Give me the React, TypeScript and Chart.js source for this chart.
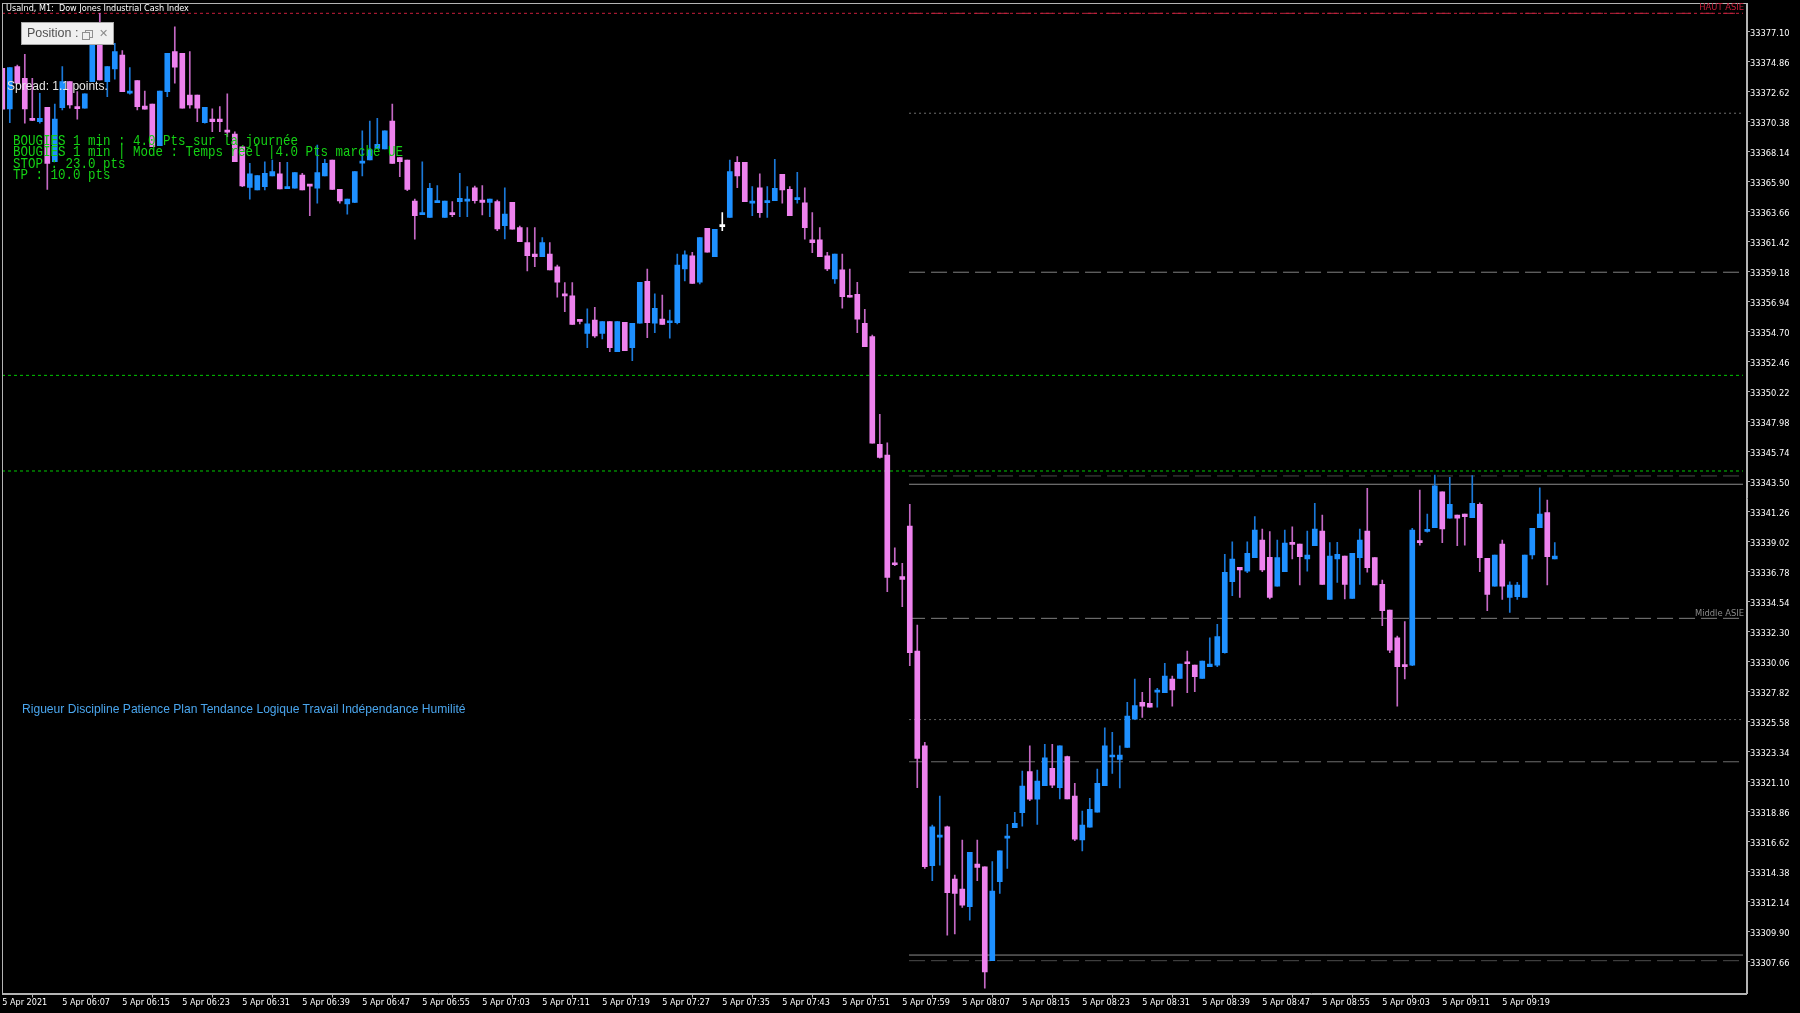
import React, { useEffect, useRef } from "react";
import { Chart, registerables } from "chart.js";

Chart.register(...registerables);

// ---------- DATA ----------
const xTickLabels = [
  "5 Apr 2021", "5 Apr 06:07", "5 Apr 06:15", "5 Apr 06:23", "5 Apr 06:31", "5 Apr 06:39",
  "5 Apr 06:47", "5 Apr 06:55", "5 Apr 07:03", "5 Apr 07:11", "5 Apr 07:19", "5 Apr 07:27",
  "5 Apr 07:35", "5 Apr 07:43", "5 Apr 07:51", "5 Apr 07:59", "5 Apr 08:07", "5 Apr 08:15",
  "5 Apr 08:23", "5 Apr 08:31", "5 Apr 08:39", "5 Apr 08:47", "5 Apr 08:55", "5 Apr 09:03",
  "5 Apr 09:11", "5 Apr 09:19",
];
const xTickStep = 8;

const yTickLabels = [
  "33377.10", "33374.86", "33372.62", "33370.38", "33368.14", "33365.90", "33363.66", "33361.42",
  "33359.18", "33356.94", "33354.70", "33352.46", "33350.22", "33347.98", "33345.74", "33343.50",
  "33341.26", "33339.02", "33336.78", "33334.54", "33332.30", "33330.06", "33327.82", "33325.58",
  "33323.34", "33321.10", "33318.86", "33316.62", "33314.38", "33312.14", "33309.90", "33307.66",
];

const opens = [
  33374.37, 33371.33, 33374.49, 33373.62, 33370.55, 33370.38, 33371.46, 33367.39, 33371.43, 33373.37,
  33371.42, 33371.38, 33373.37, 33376.33, 33373.37, 33374.32, 33375.36, 33372.50, 33373.44, 33371.55,
  33371.70, 33368.59, 33372.62, 33375.61, 33375.49, 33372.37, 33372.37, 33370.31, 33370.58, 33370.58,
  33369.66, 33369.46, 33368.51, 33365.48, 33365.28, 33365.53, 33366.33, 33366.48, 33365.38, 33365.41,
  33366.40, 33365.63, 33365.41, 33366.33, 33367.52, 33365.33, 33364.24, 33364.36, 33367.29, 33367.52,
  33368.39, 33368.34, 33370.43, 33367.69, 33367.52, 33364.46, 33363.44, 33363.24, 33364.33, 33363.24,
  33363.50, 33364.41, 33364.45, 33365.45, 33364.53, 33364.36, 33364.41, 33362.61, 33364.36, 33362.47,
  33361.35, 33360.50, 33360.30, 33360.50, 33359.55, 33357.49, 33357.37, 33355.53, 33354.58, 33355.57,
  33354.58, 33355.45, 33353.21, 33355.40, 33353.51, 33355.33, 33358.46, 33355.33, 33355.65, 33355.37,
  33355.37, 33359.38, 33360.37, 33358.39, 33362.42, 33360.30, 33362.54, 33363.24, 33367.35, 33367.35,
  33364.30, 33365.45, 33364.33, 33364.48, 33366.45, 33365.33, 33364.56, 33364.33, 33361.55, 33361.55,
  33360.37, 33358.64, 33359.31, 33357.39, 33357.49, 33355.33, 33354.33, 33346.29, 33345.49, 33337.36,
  33336.41, 33340.19, 33330.86, 33323.79, 33314.83, 33316.96, 33317.74, 33313.84, 33313.09, 33311.77,
  33314.96, 33314.75, 33307.74, 33313.63, 33316.89, 33317.67, 33318.79, 33321.85, 33319.79, 33320.80,
  33322.10, 33320.65, 33322.97, 33320.03, 33316.75, 33317.70, 33318.82, 33320.80, 33322.95, 33322.77,
  33323.67, 33325.78, 33327.03, 33326.95, 33327.79, 33327.75, 33328.77, 33328.82, 33329.97, 33329.81,
  33328.82, 33329.69, 33329.81, 33330.73, 33336.03, 33337.11, 33336.83, 33337.83, 33339.15, 33337.86,
  33335.71, 33336.78, 33338.88, 33338.85, 33337.73, 33338.72, 33339.82, 33334.72, 33337.73, 33337.95,
  33334.79, 33337.83, 33339.82, 33337.83, 33335.84, 33333.92, 33331.85, 33329.81, 33329.81, 33339.07,
  33339.79, 33340.07, 33342.75, 33340.77, 33341.01, 33341.09, 33340.81, 33341.81, 33337.78, 33335.71,
  33338.85, 33334.87, 33334.91, 33334.87, 33338.03, 33340.07, 33341.19, 33337.73,
];

const highs = [
  33374.37, 33374.41, 33374.61, 33375.41, 33373.62, 33372.50, 33371.46, 33371.70, 33374.49, 33373.37,
  33372.62, 33372.45, 33376.61, 33378.47, 33374.49, 33376.23, 33375.68, 33374.41, 33373.44, 33372.67,
  33371.70, 33372.67, 33375.49, 33377.47, 33375.49, 33375.61, 33372.37, 33371.46, 33371.33, 33371.50,
  33372.45, 33369.63, 33368.51, 33367.27, 33366.35, 33367.39, 33367.52, 33367.35, 33367.35, 33366.57,
  33366.53, 33365.65, 33368.64, 33367.57, 33367.52, 33365.33, 33364.61, 33366.65, 33369.69, 33370.43,
  33370.63, 33369.69, 33371.70, 33367.69, 33367.52, 33364.61, 33367.39, 33365.78, 33365.60, 33364.46,
  33364.41, 33366.53, 33365.53, 33365.58, 33365.60, 33364.61, 33364.53, 33365.45, 33364.36, 33362.59,
  33362.47, 33362.47, 33361.72, 33361.35, 33359.68, 33358.36, 33358.36, 33355.57, 33356.40, 33356.52,
  33355.45, 33355.45, 33355.45, 33355.40, 33355.33, 33358.39, 33359.38, 33357.52, 33357.44, 33356.32,
  33360.50, 33360.73, 33360.63, 33361.72, 33362.42, 33362.35, 33363.59, 33367.52, 33367.77, 33367.35,
  33365.53, 33366.48, 33365.53, 33367.57, 33366.45, 33365.53, 33366.60, 33365.45, 33363.59, 33362.47,
  33360.63, 33360.50, 33360.50, 33359.38, 33358.39, 33356.37, 33354.45, 33348.53, 33346.41, 33338.57,
  33337.41, 33341.81, 33332.80, 33324.04, 33317.87, 33320.03, 33317.79, 33314.13, 33316.75, 33315.83,
  33316.75, 33314.75, 33315.13, 33315.95, 33317.92, 33318.82, 33321.90, 33323.79, 33321.97, 33323.89,
  33323.89, 33323.79, 33323.02, 33320.98, 33318.91, 33319.86, 33322.05, 33325.13, 33324.79, 33323.79,
  33327.03, 33328.77, 33327.78, 33328.82, 33328.07, 33329.94, 33328.99, 33329.89, 33330.86, 33329.81,
  33330.11, 33331.85, 33332.85, 33338.08, 33339.02, 33337.11, 33339.02, 33340.89, 33339.97, 33339.77,
  33339.15, 33339.89, 33340.14, 33338.85, 33339.82, 33341.89, 33341.01, 33338.95, 33338.98, 33337.95,
  33338.15, 33339.97, 33343.01, 33337.83, 33336.16, 33333.92, 33331.98, 33333.05, 33340.02, 33342.88,
  33341.09, 33344.00, 33342.75, 33343.83, 33341.01, 33341.09, 33343.95, 33341.93, 33337.78, 33338.03,
  33339.15, 33336.03, 33335.99, 33338.03, 33340.02, 33343.05, 33342.13, 33338.95,
];

const lows = [
  33371.31, 33370.31, 33373.25, 33370.26, 33370.45, 33370.26, 33365.33, 33367.39, 33371.25, 33371.38,
  33370.56, 33371.38, 33373.37, 33373.49, 33372.25, 33373.55, 33372.62, 33372.43, 33371.25, 33371.31,
  33368.51, 33368.59, 33372.25, 33373.25, 33371.38, 33371.38, 33370.38, 33370.26, 33369.63, 33369.63,
  33369.26, 33367.39, 33365.53, 33364.59, 33365.28, 33365.28, 33366.33, 33365.36, 33365.38, 33365.41,
  33365.28, 33363.36, 33364.29, 33366.33, 33365.33, 33364.29, 33363.47, 33364.33, 33366.33, 33367.52,
  33368.39, 33368.34, 33367.27, 33366.27, 33365.23, 33361.60, 33363.44, 33363.24, 33364.33, 33363.24,
  33363.29, 33363.29, 33363.29, 33364.29, 33363.41, 33363.29, 33362.24, 33361.62, 33362.35, 33361.42,
  33359.23, 33359.55, 33360.30, 33359.31, 33357.27, 33356.19, 33355.25, 33355.28, 33353.51, 33354.28,
  33354.16, 33353.21, 33353.21, 33353.28, 33352.54, 33355.33, 33354.25, 33354.63, 33355.25, 33354.21,
  33355.28, 33358.49, 33358.31, 33358.26, 33360.63, 33360.30, 33362.24, 33363.24, 33365.45, 33364.41,
  33363.36, 33363.24, 33363.24, 33364.48, 33364.29, 33363.36, 33364.29, 33361.60, 33360.60, 33360.30,
  33359.25, 33358.31, 33356.45, 33357.27, 33354.63, 33353.58, 33346.37, 33345.25, 33335.29, 33337.23,
  33334.17, 33329.76, 33320.65, 33314.63, 33313.71, 33314.88, 33309.65, 33309.73, 33311.72, 33310.77,
  33313.71, 33305.68, 33307.74, 33312.77, 33314.63, 33317.67, 33317.79, 33319.68, 33317.92, 33320.80,
  33320.65, 33319.81, 33319.81, 33316.70, 33315.93, 33317.70, 33318.82, 33320.80, 33321.73, 33320.63,
  33323.67, 33325.78, 33325.91, 33326.66, 33326.66, 33327.75, 33326.75, 33328.82, 33327.75, 33327.82,
  33328.82, 33329.69, 33329.69, 33330.69, 33334.99, 33334.87, 33336.71, 33337.83, 33336.78, 33334.74,
  33335.71, 33336.78, 33337.73, 33335.79, 33336.83, 33338.72, 33335.84, 33334.72, 33335.99, 33334.74,
  33334.79, 33335.84, 33336.74, 33335.79, 33332.75, 33330.73, 33326.75, 33328.77, 33329.76, 33338.77,
  33339.73, 33340.07, 33338.95, 33340.77, 33338.72, 33338.77, 33340.81, 33336.78, 33333.87, 33335.71,
  33334.72, 33333.75, 33334.72, 33334.87, 33337.73, 33340.07, 33335.79, 33337.73,
];

const closes = [
  33371.31, 33374.41, 33373.25, 33371.33, 33370.48, 33370.63, 33367.27, 33370.58, 33373.37, 33371.63,
  33371.35, 33372.45, 33376.61, 33373.49, 33374.49, 33375.61, 33372.62, 33372.67, 33371.50, 33371.31,
  33368.51, 33372.67, 33375.49, 33374.44, 33371.38, 33371.63, 33371.38, 33371.46, 33370.38, 33370.38,
  33369.60, 33367.39, 33365.58, 33366.48, 33366.35, 33366.53, 33366.65, 33365.36, 33365.44, 33366.57,
  33365.28, 33365.57, 33366.57, 33367.27, 33365.33, 33364.46, 33364.61, 33366.65, 33367.35, 33368.27,
  33368.69, 33369.69, 33367.27, 33367.39, 33365.33, 33363.36, 33363.50, 33365.41, 33364.48, 33364.46,
  33363.44, 33364.66, 33364.51, 33364.48, 33364.36, 33364.61, 33362.37, 33363.49, 33362.35, 33361.42,
  33360.37, 33360.30, 33361.35, 33359.31, 33358.39, 33357.37, 33355.25, 33355.47, 33355.28, 33354.38,
  33355.45, 33353.51, 33355.45, 33353.28, 33355.33, 33358.39, 33355.37, 33356.45, 33355.25, 33355.43,
  33359.68, 33360.43, 33358.31, 33361.72, 33360.63, 33362.35, 33362.54, 33366.65, 33366.33, 33364.41,
  33364.36, 33363.59, 33364.48, 33365.41, 33365.28, 33363.36, 33364.62, 33362.47, 33361.35, 33360.30,
  33359.38, 33360.50, 33357.31, 33357.27, 33355.63, 33353.58, 33346.37, 33345.32, 33336.36, 33337.30,
  33336.21, 33330.73, 33322.85, 33314.75, 33317.74, 33317.02, 33312.81, 33312.77, 33311.89, 33315.83,
  33314.71, 33306.91, 33312.94, 33315.95, 33316.95, 33317.99, 33320.78, 33319.79, 33321.15, 33322.89,
  33320.85, 33323.79, 33319.81, 33316.82, 33317.87, 33319.04, 33320.98, 33323.79, 33323.01, 33323.09,
  33326.01, 33326.78, 33326.75, 33326.66, 33327.85, 33328.99, 33327.95, 33329.89, 33329.91, 33328.94,
  33330.11, 33329.89, 33331.93, 33336.74, 33337.73, 33336.91, 33338.15, 33339.89, 33336.91, 33334.87,
  33337.83, 33338.92, 33338.82, 33337.90, 33338.03, 33339.97, 33335.84, 33337.95, 33338.08, 33335.84,
  33338.15, 33339.15, 33337.08, 33335.79, 33333.87, 33330.93, 33329.69, 33329.69, 33339.89, 33338.95,
  33339.85, 33343.20, 33339.97, 33341.81, 33340.77, 33340.89, 33341.89, 33337.83, 33335.09, 33338.03,
  33335.71, 33335.79, 33335.79, 33338.03, 33340.02, 33341.09, 33337.90, 33337.95,
];

// horizontal level lines (price, starting bar index)
const levelPrices = [
  33378.47, 33378.47, 33371.01, 33359.14, 33351.44, 33344.30, 33343.93,
  33343.31, 33333.30, 33325.74, 33322.59, 33308.16, 33307.74,
];
const levelStarts = [-0.04, 120.9, 120.9, 120.9, -0.04, -0.04, 120.9, 120.9, 120.9, 120.9, 120.9, 120.9, 120.9];
const levelEnd = 232.1;

// ---------- STYLE ----------
const levelStyles = [
  { color: "#c81e3c", dash: [3, 3] },
  { color: "#b02a40", dash: [12, 10] },
  { color: "#707070", dash: [2, 3] },
  { color: "#808080", dash: [16, 6] },
  { color: "#00c800", dash: [3, 3] },
  { color: "#00c800", dash: [3, 3] },
  { color: "#4a4a4a", dash: [16, 6] },
  { color: "#8c8c8c", dash: [] },
  { color: "#808080", dash: [16, 6] },
  { color: "#606060", dash: [2, 3] },
  { color: "#6e6e6e", dash: [16, 6] },
  { color: "#8c8c8c", dash: [] },
  { color: "#4a4a4a", dash: [16, 6] },
];

const BULL = "#1e90ff";
const BEAR = "#ee82ee";
const DOJI = "#ffffff";
const BULL_WICK = "#1a78d8";
const BEAR_WICK = "#c468c4";
const AXIS_FONT = '"Liberation Sans Narrow", "DejaVu Sans Condensed", "Liberation Sans", sans-serif';

const X_MIN = -0.04;
const X_MAX = 232.63;
const Y_MIN = 33305.29;
const Y_MAX = 33379.24;

const framePlugin = {
  id: "frame",
  afterDraw(chart: any) {
    const { ctx, chartArea } = chart;
    ctx.save();
    ctx.strokeStyle = "#b4b4b4";
    ctx.lineWidth = 1;
    ctx.strokeRect(
      Math.round(chartArea.left) + 0.5,
      Math.round(chartArea.top) + 0.5,
      Math.round(chartArea.right - chartArea.left) - 1,
      Math.round(chartArea.bottom - chartArea.top)
    );
    ctx.restore();
  },
};

function CandleChart() {
  const ref = useRef<HTMLCanvasElement | null>(null);

  useEffect(() => {
    const canvas = ref.current;
    if (!canvas) return;
    const n = closes.length;
    const idx = Array.from({ length: n }, (_, i) => i);
    const dir = (i: number) => (closes[i] > opens[i] ? 1 : closes[i] < opens[i] ? -1 : 0);
    const bodyColors = idx.map((i) => (dir(i) > 0 ? BULL : dir(i) < 0 ? BEAR : DOJI));
    const wickColors = idx.map((i) => (dir(i) > 0 ? BULL_WICK : dir(i) < 0 ? BEAR_WICK : DOJI));

    const levelDatasets = levelPrices.map((p, k) => ({
      type: "line" as const,
      data: [
        { x: levelStarts[k], y: p },
        { x: levelEnd, y: p },
      ],
      borderColor: levelStyles[k].color,
      borderDash: levelStyles[k].dash,
      borderWidth: 1,
      pointRadius: 0,
      fill: false,
      tension: 0,
      order: 3,
    }));

    const xTickValues = xTickLabels.map((_, k) => k * xTickStep);
    const yTickValues = yTickLabels.map((s) => parseFloat(s));

    const chart = new Chart(canvas, {
      type: "bar",
      data: {
        datasets: [
          {
            type: "bar",
            data: idx.map((i) => ({ x: i, y: [opens[i], closes[i]] })) as any,
            backgroundColor: bodyColors,
            borderWidth: 0,
            barThickness: 5,
            minBarLength: 2,
            grouped: false,
            order: 0,
          } as any,
          {
            type: "bar",
            data: idx.map((i) => ({ x: i, y: [lows[i], highs[i]] })) as any,
            backgroundColor: wickColors,
            borderWidth: 0,
            barThickness: 1,
            minBarLength: 1,
            grouped: false,
            order: 1,
          } as any,
          ...(levelDatasets as any[]),
        ],
      },
      options: {
        responsive: false,
        animation: false,
        devicePixelRatio: 1,
        events: [],
        layout: { padding: { left: 2, top: 3, right: 0, bottom: 0 } },
        plugins: {
          legend: { display: false },
          tooltip: { enabled: false },
        },
        scales: {
          x: {
            type: "linear",
            min: X_MIN,
            max: X_MAX,
            offset: false,
            grid: {
              display: true,
              drawOnChartArea: false,
              drawTicks: true,
              tickLength: 4,
              color: "#b4b4b4",
            },
            border: { display: true, color: "#b4b4b4" },
            ticks: {
              autoSkip: false,
              maxRotation: 0,
              minRotation: 0,
              align: "start",
              padding: 0,
              color: "#ffffff",
              font: { family: AXIS_FONT, size: 9 },
              callback: (v: any) => xTickLabels[Math.round(Number(v) / xTickStep)] ?? "",
            },
            afterBuildTicks: (s: any) => {
              s.ticks = xTickValues.map((v) => ({ value: v }));
            },
            afterFit: (s: any) => {
              s.height = 19.5;
            },
          },
          y: {
            type: "linear",
            position: "right",
            min: Y_MIN,
            max: Y_MAX,
            grid: {
              display: true,
              drawOnChartArea: false,
              drawTicks: true,
              tickLength: 3,
              color: "#b4b4b4",
            },
            border: { display: true, color: "#b4b4b4" },
            ticks: {
              autoSkip: false,
              padding: 0,
              labelOffset: 2,
              color: "#ffffff",
              font: { family: AXIS_FONT, size: 9.2, lineHeight: 0.5 },
              callback: (_v: any, i: number) => yTickLabels[i] ?? "",
            },
            afterBuildTicks: (s: any) => {
              s.ticks = yTickValues.map((v) => ({ value: v }));
            },
            afterFit: (s: any) => {
              s.width = 53;
            },
          },
        },
      } as any,
      plugins: [framePlugin],
    });
    return () => chart.destroy();
  }, []);

  return (
    <canvas
      ref={ref}
      width={1800}
      height={1013}
      style={{ position: "absolute", left: 0, top: 0, width: 1800, height: 1013, display: "block" }}
    />
  );
}

const greenLines = [
  "BOUGIES 1 min : 4.0 Pts sur la journée",
  "BOUGIES 1 min | Mode : Temps réel |4.0 Pts marché UE",
  "STOP : 23.0 pts",
  "TP : 10.0 pts",
];

export default function App() {
  useEffect(() => {
    document.body.style.margin = "0";
    document.body.style.background = "#000";
  }, []);

  const sans = '"Liberation Sans", Arial, sans-serif';

  return (
    <div style={{ position: "relative", width: 1800, height: 1013, background: "#000", overflow: "hidden" }}>
      <CandleChart />

      {/* chart title */}
      <div
        style={{
          position: "absolute", left: 6, top: 2, color: "#ffffff", whiteSpace: "pre",
          fontFamily: AXIS_FONT, fontSize: 9, lineHeight: "12px",
        }}
      >
        {"UsaInd, M1:  Dow Jones Industrial Cash Index"}
      </div>

      {/* HAUT ASIE label */}
      <div
        style={{
          position: "absolute", right: 1800 - 1744, top: 1, color: "#c8203c", whiteSpace: "pre",
          fontFamily: AXIS_FONT, fontSize: 9.3, lineHeight: "11px",
        }}
      >
        HAUT ASIE
      </div>

      {/* Middle ASIE label */}
      <div
        style={{
          position: "absolute", right: 1800 - 1744, top: 607, color: "#8a8a8a", whiteSpace: "pre",
          fontFamily: AXIS_FONT, fontSize: 9.3, lineHeight: "11px",
        }}
      >
        Middle ASIE
      </div>

      {/* Position panel */}
      <div
        style={{
          position: "absolute", left: 21, top: 22, width: 93, height: 23, boxSizing: "border-box",
          background: "#f0f0f0", border: "1px solid #a8a8a8",
        }}
      >
        <div
          style={{
            position: "absolute", left: 5, top: 3, color: "#505050", fontFamily: sans,
            fontSize: 12.5, lineHeight: "15px", whiteSpace: "pre",
          }}
        >
          Position :
        </div>
        <div style={{ position: "absolute", left: 63, top: 7, width: 6, height: 6, border: "1px solid #909090" }} />
        <div
          style={{
            position: "absolute", left: 60, top: 9, width: 6, height: 6, border: "1px solid #909090",
            background: "#f0f0f0",
          }}
        />
        <div
          style={{
            position: "absolute", left: 77, top: 3, color: "#8a8a8a", fontFamily: '"DejaVu Sans", sans-serif',
            fontSize: 11, lineHeight: "15px", fontWeight: "bold",
          }}
        >
          ✕
        </div>
      </div>

      {/* Spread */}
      <div
        style={{
          position: "absolute", left: 7, top: 78, color: "#e6e6e6", fontFamily: sans,
          fontSize: 12, lineHeight: "16px", whiteSpace: "pre",
        }}
      >
        Spread: 1.1 points.
      </div>

      {/* Green info block */}
      <div
        style={{
          position: "absolute", left: 13, top: 137.3, color: "#14d214", whiteSpace: "pre",
          fontFamily: '"Liberation Mono", "Courier New", monospace', fontSize: 12.5,
          lineHeight: "9.44px", transform: "scaleY(1.2)", transformOrigin: "0 0",
        }}
      >
        {greenLines.map((l, k) => (
          <div key={k} style={{ height: 9.44 }}>{l}</div>
        ))}
      </div>

      {/* Motto */}
      <div
        style={{
          position: "absolute", left: 22, top: 701, color: "#4aa6ee", fontFamily: sans,
          fontSize: 12.1, lineHeight: "16px", whiteSpace: "pre",
        }}
      >
        Rigueur Discipline Patience Plan Tendance Logique Travail Indépendance Humilité
      </div>
    </div>
  );
}
